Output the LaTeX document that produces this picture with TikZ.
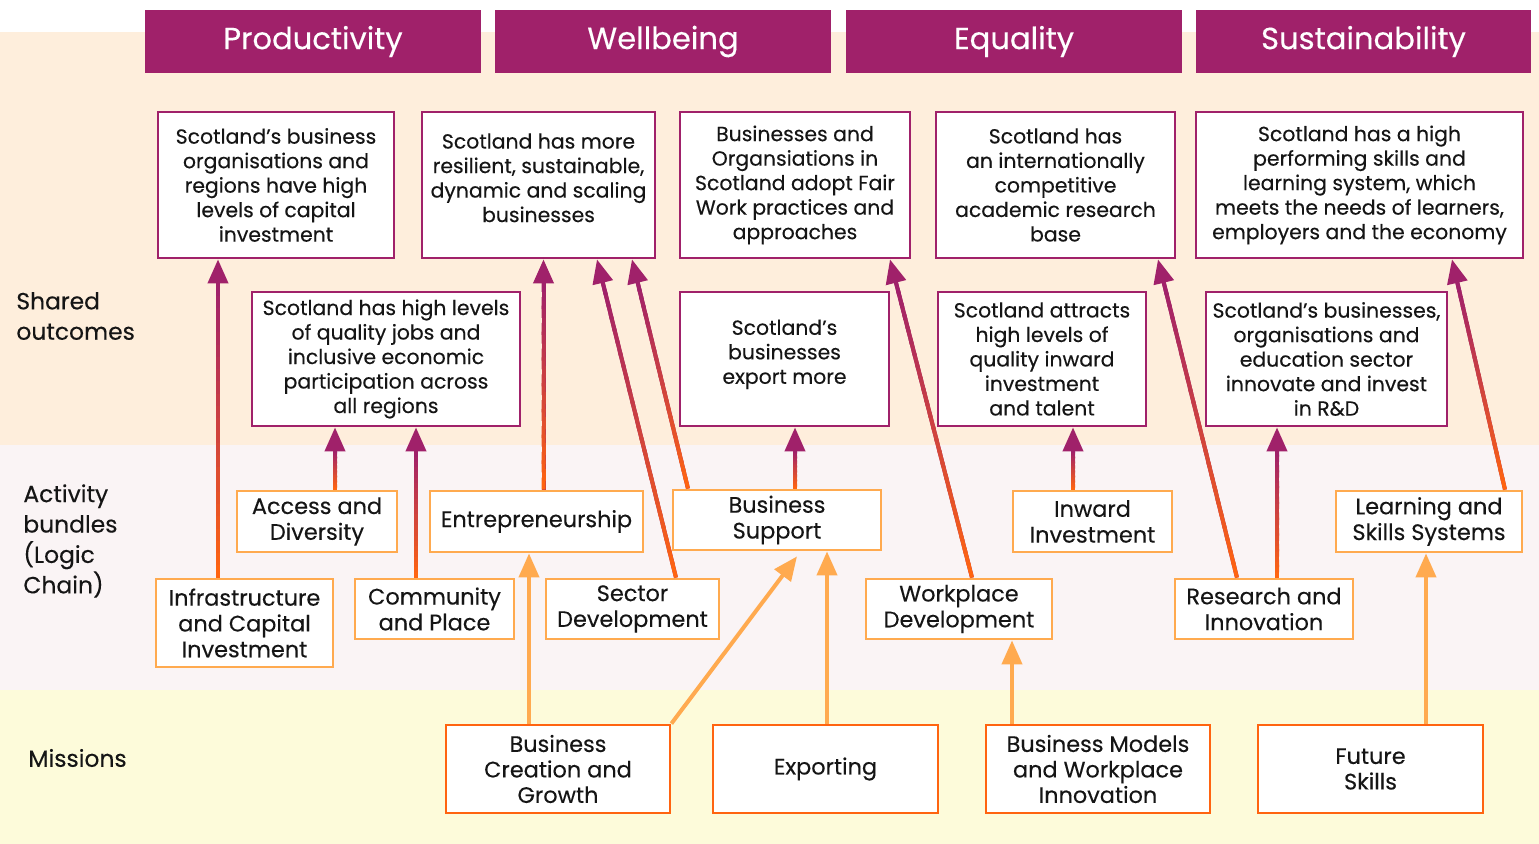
\documentclass[tikz,border=0pt]{standalone}
\usepackage{fontspec}
\setmainfont{Poppins}[FakeBold=0.25]
\usetikzlibrary{arrows.meta, calc, positioning}

\definecolor{purp}{HTML}{A0216A}
\definecolor{orng}{HTML}{FF6410}
\definecolor{lorng}{HTML}{FFAA4F}
\definecolor{peach}{HTML}{FEEEDC}
\definecolor{blush}{HTML}{FAF4F5}
\definecolor{cream}{HTML}{FDFBDA}
\definecolor{ink}{HTML}{151515}

% arrow that fades from orange (bottom) to purple (tip)
\newcommand{\gradlink}[2]{%
	\path #1 coordinate (gs);
	\path #2 coordinate (ge);
	\draw[rise] (gs) -- (ge);
	\path ($(ge)!12pt!(gs)$) coordinate (gh);
	\foreach \i in {0,...,23}{%
		\pgfmathtruncatemacro{\mix}{100-\i*100/23}%
		\pgfmathsetmacro{\pa}{\i/24}%
		\pgfmathsetmacro{\pb}{(\i+1.4)/24}%
		\draw[line width=2pt, draw=orng!\mix!purp] ($(gs)!\pa!(gh)$) -- ($(gs)!\pb!(gh)$);
	}%
}

\begin{document}
\begin{tikzpicture}[
		x=0.5pt, y=-0.5pt,
		header/.style={rectangle, fill=purp, text=white, minimum height=31.5pt, inner sep=0pt, font=\fontsize{15.3}{18}\selectfont},
		outcome/.style={rectangle, draw=purp, fill=white, line width=1.4pt, align=center, text=ink, inner sep=0pt, font=\fontsize{10.2}{12.25}\selectfont},
		bundle/.style={rectangle, draw=lorng, fill=white, line width=1.4pt, align=center, text=ink, inner sep=0pt, font=\fontsize{11.2}{12.9}\selectfont},
		mission/.style={rectangle, draw=orng, fill=white, line width=1.4pt, align=center, text=ink, inner sep=0pt, minimum height=44pt, font=\fontsize{11.2}{12.75}\selectfont},
		rise/.style={-{Triangle[width=10pt,length=12pt]}, line width=2pt, draw=purp, fill=purp},
		feed/.style={-{Triangle[width=10pt,length=12pt]}, line width=2pt, draw=lorng, fill=lorng},
		rowlabel/.style={anchor=west, align=left, text=ink, inner sep=0pt, font=\fontsize{11.7}{15.2}\selectfont},
	]
		\useasboundingbox (0,0) rectangle (1539,844);

		%Bands
		\fill[peach] (0,32) rectangle (1539,445);
		\fill[blush] (0,445) rectangle (1539,690);
		\fill[cream] (0,690) rectangle (1539,844);

		%Headers
		\node[header, minimum width=168pt] (hprod) at (313,41.5) {Productivity};
		\node[header, minimum width=168pt] (hwell) at (663,41.5) {Wellbeing};
		\node[header, minimum width=168pt] (hequal) at (1014,41.5) {Equality};
		\node[header, minimum width=167.5pt] (hsust) at (1363.5,41.5) {Sustainability};

		%Row labels
		\node[rowlabel] (lshared) at (16,316) {Shared\\outcomes};
		\node[rowlabel] (lbundle) at (23,541) {Activity\\bundles\\(Logic\\Chain)};
		\node[rowlabel] (lmission) at (28,758) {Missions};

		%Shared outcomes
		\node[outcome, minimum width=118pt, minimum height=73pt] (out1) at (276,185)
			{Scotland’s business\\organisations and\\regions have high\\levels of capital\\investment};
		\node[outcome, minimum width=116.5pt, minimum height=73pt] (out2) at (538.5,185)
			{Scotland has more\\resilient, sustainable,\\dynamic and scaling\\businesses\\[-5pt]};
		\node[outcome, minimum width=115pt, minimum height=73pt] (out3) at (795,185)
			{Businesses and\\Organsiations in\\Scotland adopt Fair\\Work practices and\\approaches};
		\node[outcome, minimum width=119.5pt, minimum height=73pt] (out4) at (1055.5,185)
			{Scotland has\\an internationally\\competitive\\academic research\\base};
		\node[outcome, minimum width=163.5pt, minimum height=73pt] (out5) at (1359.5,185)
			{Scotland has a high\\performing skills and\\learning system, which\\meets the needs of learners,\\employers and the economy};
		\node[outcome, minimum width=134pt, minimum height=67pt] (out6) at (386,359)
			{Scotland has high levels\\of quality jobs and\\inclusive economic\\participation across\\all regions};
		\node[outcome, minimum width=104.5pt, minimum height=67pt] (out7) at (784.5,359)
			{Scotland’s\\businesses\\export more\\[-5pt]};
		\node[outcome, minimum width=104pt, minimum height=67pt] (out8) at (1042,359)
			{Scotland attracts\\high levels of\\quality inward\\investment\\and talent};
		\node[outcome, minimum width=120.5pt, minimum height=67pt] (out9) at (1326.5,359)
			{Scotland’s businesses,\\organisations and\\education sector\\innovate and invest\\in R\&D};

		%Activity bundles
		\node[bundle, minimum width=80pt, minimum height=30.5pt] (access) at (317,521.5) {Access and\\Diversity};
		\node[bundle, minimum width=106.5pt, minimum height=30.5pt] (entre) at (536.5,521.5) {Entrepreneurship};
		\node[bundle, minimum width=104pt, minimum height=30pt] (bsupp) at (777,520) {Business\\Support};
		\node[bundle, minimum width=79.5pt, minimum height=30.5pt] (inward) at (1092.5,521.5) {Inward\\Investment};
		\node[bundle, minimum width=93pt, minimum height=30.5pt] (learn) at (1429,521.5) {Learning and\\Skills Systems};
		\node[bundle, minimum width=88.5pt, minimum height=44pt] (infra) at (244.5,623) {Infrastructure\\and Capital\\Investment};
		\node[bundle, minimum width=79.5pt, minimum height=30pt] (commun) at (434.5,609) {Community\\and Place};
		\node[bundle, minimum width=86.5pt, minimum height=30pt] (sector) at (632.5,609) {Sector\\Development};
		\node[bundle, minimum width=93pt, minimum height=30pt] (workpl) at (959,609) {Workplace\\Development};
		\node[bundle, minimum width=89pt, minimum height=30pt] (resinn) at (1264,609) {Research and\\Innovation};

		%Missions
		\node[mission, minimum width=112pt] (bcg) at (558,769) {Business\\Creation and\\Growth};
		\node[mission, minimum width=112.5pt] (export) at (825.5,769) {Exporting};
		\node[mission, minimum width=112pt] (bmwi) at (1098,769) {Business Models\\and Workplace\\Innovation};
		\node[mission, minimum width=112.5pt] (fskill) at (1370.5,769) {Future\\Skills};

		%Bundles to outcomes
		\gradlink{($(infra.north)+(-26.5,0)$)}{(gs |- out1.south)}
		\gradlink{($(access.north)+(18,0)$)}{(gs |- out6.south)}
		\gradlink{($(commun.north)+(-18.5,0)$)}{(gs |- out6.south)}
		\gradlink{($(entre.north)+(7,0)$)}{(gs |- out2.south)}
		\gradlink{($(sector.north)+(43.5,0)$)}{($(out2.south)+(58.5,0)$)}
		\gradlink{($(bsupp.north)+(-89,0)$)}{($(out2.south)+(93.5,0)$)}
		\gradlink{($(bsupp.north)+(18,0)$)}{(gs |- out7.south)}
		\gradlink{($(workpl.north)+(13,0)$)}{($(out3.south)+(95,0)$)}
		\gradlink{($(inward.north)+(-19.5,0)$)}{(gs |- out8.south)}
		\gradlink{($(resinn.north)+(-27,0)$)}{($(out4.south)+(102.5,0)$)}
		\gradlink{($(resinn.north)+(13,0)$)}{(gs |- out9.south)}
		\gradlink{($(learn.north)+(76,0)$)}{($(out5.south)+(92.5,0)$)}

		%Missions to bundles
		\draw[feed] ($(bcg.north)+(-29,0)$) coordinate (f1) -- (f1 |- entre.south);
		\draw[feed] (bcg.north east) -- ($(bsupp.south)+(20,5)$);
		\draw[feed] ($(export.north)+(1.5,0)$) coordinate (f3) -- (f3 |- bsupp.south);
		\draw[feed] ($(bmwi.north)+(-86,0)$) coordinate (f4) -- (f4 |- workpl.south);
		\draw[feed] ($(fskill.north)+(55.5,0)$) coordinate (f5) -- (f5 |- learn.south);
	\end{tikzpicture}
\end{document}
